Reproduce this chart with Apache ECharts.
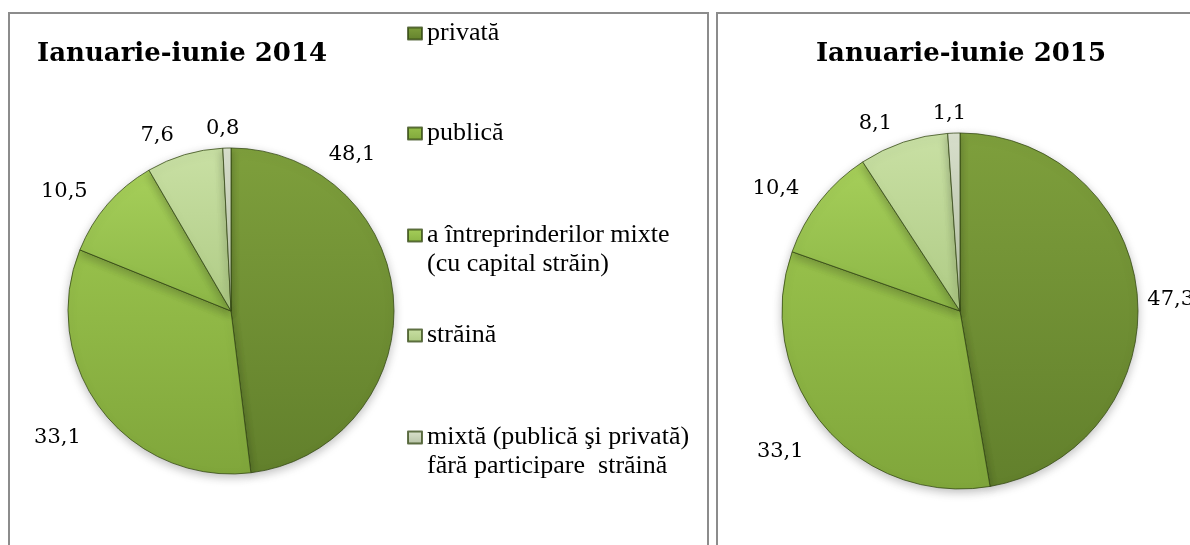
<!DOCTYPE html>
<html>
<head>
<meta charset="utf-8">
<script src="https://cdn.jsdelivr.net/npm/echarts@6/dist/echarts.min.js"></script>
<style>
  html, body { margin: 0; padding: 0; background: #fff; }
  #chart { width: 1190px; height: 545px; }
</style>
</head>
<body>
<div id="chart"></div>
<script>
(function (echarts) {
    'use strict';

    // structura pe forme de proprietate, %
    const categories = [
        'privată',
        'publică',
        'a întreprinderilor mixte\n(cu capital străin)',
        'străină',
        'mixtă (publică şi privată)\nfără participare  străină'
    ];
    const periods = ['Ianuarie-iunie 2014', 'Ianuarie-iunie 2015'];
    const values2014 = [48.1, 33.1, 10.5, 7.6, 0.8];
    const values2015 = [47.3, 33.1, 10.4, 8.1, 1.1];

    // top / bottom colour of each slice
    const sliceColors = [
        ['#7e9f3c', '#62802c'],
        ['#97c04b', '#80a63b'],
        ['#a6cf5a', '#8cb646'],
        ['#c9e0a4', '#afcb85'],
        ['#dbe2cf', '#b6c2a5']
    ];

    const fmt = v => String(v).replace('.', ',');

    const makeData = values => values.map((v, i) => ({
        name: categories[i],
        value: v,
        itemStyle: {
            color: {
                type: 'linear', x: 0, y: 0, x2: 0, y2: 1,
                colorStops: [
                    {offset: 0, color: sliceColors[i][0]},
                    {offset: 1, color: sliceColors[i][1]}
                ]
            }
        }
    }));

    // small label nudges, Excel places some labels by hand
    const pieSeries = (values, center, radius, nudges) => ({
        type: 'pie',
        center: center,
        radius: radius,
        startAngle: 90,
        clockwise: true,
        avoidLabelOverlap: false,
        silent: true,
        data: makeData(values),
        itemStyle: {
            borderColor: 'rgba(50,70,18,0.75)',
            borderWidth: 1,
            shadowBlur: 10,
            shadowOffsetY: 3,
            shadowColor: 'rgba(0,0,0,0.25)'
        },
        label: {
            position: 'outside',
            formatter: p => fmt(p.value),
            fontFamily: 'DejaVu Serif',
            fontSize: 21,
            color: '#000'
        },
        labelLine: {show: false, length: 20, length2: 0},
        labelLayout: p => nudges[p.dataIndex] || {}
    });

    // one legend block per entry, so icons sit on the first text line
    const legendTops = [19, 119, 192, 321, 394];
    const legends = categories.map((name, i) => {
        const twoLines = name.indexOf('\n') >= 0;
        return {
            data: [name],
            left: 407,
            top: legendTops[i],
            padding: 0,
            icon: 'rect',
            itemWidth: 14,
            itemHeight: 12,
            itemGap: 0,
            selectedMode: false,
            // leading blank line keeps the icon level with the first line
            formatter: n => twoLines ? '\n' + n : n,
            textStyle: {
                fontFamily: 'Liberation Serif',
                fontSize: 26,
                lineHeight: 29,
                color: '#000'
            }
        };
    });

    const titleStyle = {fontFamily: 'DejaVu Serif', fontWeight: 'bold', fontSize: 26, color: '#000'};

    const chart = echarts.init(document.getElementById('chart'), null, {renderer: 'canvas'});
    chart.setOption({
        backgroundColor: '#fff',
        animation: false,
        title: [
            {text: periods[0], left: 37, top: 41, padding: 0, textStyle: titleStyle},
            {text: periods[1], left: 961, top: 41, padding: 0, textAlign: 'center', textStyle: titleStyle}
        ],
        legend: legends,
        graphic: [
            {type: 'rect', shape: {x: 9, y: 13, width: 699, height: 600},
             style: {fill: null, stroke: '#8c8c8c', lineWidth: 2}},
            {type: 'rect', shape: {x: 717, y: 13, width: 600, height: 600},
             style: {fill: null, stroke: '#8c8c8c', lineWidth: 2}}
        ],
        series: [
            pieSeries(values2014, [231, 311], 163,
                {0: {dx: -90, dy: -145}, 1: {dy: 15}, 4: {dx: 18}}),
            pieSeries(values2015, [960, 311], 178,
                {0: {dx: -15, dy: 5}, 1: {dy: 13}, 4: {dx: 18}})
        ]
    });
})(echarts);
</script>
</body>
</html>
